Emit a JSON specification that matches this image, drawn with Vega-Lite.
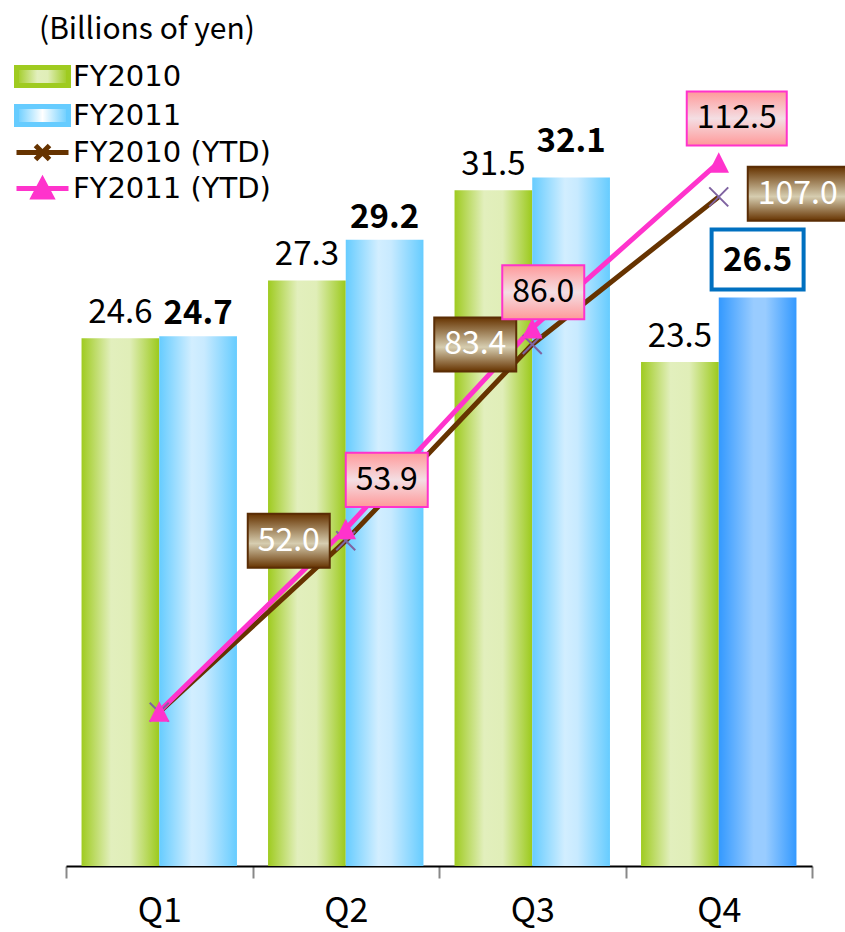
{
  "$schema": "https://vega.github.io/schema/vega-lite/v6.json",
  "width": 746,
  "height": 858,
  "autosize": "none",
  "padding": {"left": 66, "top": 8, "right": 33, "bottom": 66},
  "background": "white",
  "config": {"view": {"stroke": null}, "font": "Noto Sans CJK JP"},
  "datasets": {
    "bars": [
      {"q": "Q1", "series": "FY2010", "value": 24.6},
      {"q": "Q1", "series": "FY2011", "value": 24.7},
      {"q": "Q2", "series": "FY2010", "value": 27.3},
      {"q": "Q2", "series": "FY2011", "value": 29.2},
      {"q": "Q3", "series": "FY2010", "value": 31.5},
      {"q": "Q3", "series": "FY2011", "value": 32.1},
      {"q": "Q4", "series": "FY2010", "value": 23.5},
      {"q": "Q4", "series": "FY2011", "value": 26.5}
    ],
    "ytd": [
      {"q": "Q1", "series": "FY2010 (YTD)", "ytd": 24.6},
      {"q": "Q2", "series": "FY2010 (YTD)", "ytd": 52.0},
      {"q": "Q3", "series": "FY2010 (YTD)", "ytd": 83.4},
      {"q": "Q4", "series": "FY2010 (YTD)", "ytd": 107.0},
      {"q": "Q1", "series": "FY2011 (YTD)", "ytd": 24.7},
      {"q": "Q2", "series": "FY2011 (YTD)", "ytd": 53.9},
      {"q": "Q3", "series": "FY2011 (YTD)", "ytd": 86.0},
      {"q": "Q4", "series": "FY2011 (YTD)", "ytd": 112.5}
    ]
  },
  "resolve": {"scale": {"y": "independent"}},
  "layer": [
    {
      "data": {"name": "bars"},
      "mark": {"type": "bar"},
      "encoding": {
        "x": {"field": "q", "type": "nominal", "title": null,
              "scale": {"paddingInner": 0, "paddingOuter": 0},
              "axis": {"labelAngle": 0, "labelFontSize": 34, "labelColor": "#000000", "labelBaseline": "alphabetic", "labelPadding": 43,
                       "domainColor": "#000000", "domainWidth": 2, "tickColor": "#888888", "tickWidth": 2,
                       "tickSize": 12, "tickBand": "extent", "grid": false}},
        "xOffset": {"field": "series", "type": "nominal", "scale": {"domain": ["FY2010", "FY2011"], "paddingInner": 0, "paddingOuter": 0.2}},
        "y": {"field": "value", "type": "quantitative", "scale": {"domain": [0, 40]}, "axis": null},
        "fill": {
          "condition": [
            {"test": "datum.series === 'FY2010'", "value": {"gradient": "linear", "x1": 0, "y1": 0, "x2": 1, "y2": 0,
              "stops": [{"offset": 0, "color": "#9FCB20"}, {"offset": 0.38, "color": "#E2EFBD"}, {"offset": 0.62, "color": "#E0EEB8"}, {"offset": 1, "color": "#9CCA1C"}]}},
            {"test": "datum.q === 'Q4'", "value": {"gradient": "linear", "x1": 0, "y1": 0, "x2": 1, "y2": 0,
              "stops": [{"offset": 0, "color": "#3399FF"}, {"offset": 0.45, "color": "#99CCFF"}, {"offset": 0.6, "color": "#99CCFF"}, {"offset": 1, "color": "#3399FF"}]}}
          ],
          "value": {"gradient": "linear", "x1": 0, "y1": 0, "x2": 1, "y2": 0,
            "stops": [{"offset": 0, "color": "#66CCFF"}, {"offset": 0.42, "color": "#D2EEFF"}, {"offset": 0.58, "color": "#C8EAFF"}, {"offset": 1, "color": "#66CCFF"}]}
        }
      }
    },
    {
      "data": {"name": "bars"},
      "transform": [{"filter": "datum.series === 'FY2010'"}],
      "mark": {"type": "text", "fontSize": 33, "baseline": "alphabetic", "dy": -15, "color": "#000000"},
      "encoding": {
        "x": {"field": "q", "type": "nominal"},
        "xOffset": {"field": "series", "type": "nominal", "scale": {"domain": ["FY2010", "FY2011"], "paddingInner": 0, "paddingOuter": 0.2}},
        "y": {"field": "value", "type": "quantitative", "scale": {"domain": [0, 40]}, "axis": null},
        "text": {"field": "value", "type": "quantitative", "format": ".1f"}
      }
    },
    {
      "data": {"name": "bars"},
      "transform": [{"filter": "datum.series === 'FY2011' && (datum.q === 'Q1' || datum.q === 'Q2')"}],
      "mark": {"type": "text", "fontSize": 33, "fontWeight": "bold", "baseline": "alphabetic", "dy": -12, "color": "#000000"},
      "encoding": {
        "x": {"field": "q", "type": "nominal"},
        "xOffset": {"field": "series", "type": "nominal", "scale": {"domain": ["FY2010", "FY2011"], "paddingInner": 0, "paddingOuter": 0.2}},
        "y": {"field": "value", "type": "quantitative", "scale": {"domain": [0, 40]}, "axis": null},
        "text": {"field": "value", "type": "quantitative", "format": ".1f"}
      }
    },
    {
      "data": {"name": "bars"},
      "transform": [{"filter": "datum.series === 'FY2011' && datum.q === 'Q3'"}],
      "mark": {"type": "text", "fontSize": 33, "fontWeight": "bold", "baseline": "alphabetic", "dy": -25, "color": "#000000"},
      "encoding": {
        "x": {"field": "q", "type": "nominal"},
        "xOffset": {"field": "series", "type": "nominal", "scale": {"domain": ["FY2010", "FY2011"], "paddingInner": 0, "paddingOuter": 0.2}},
        "y": {"field": "value", "type": "quantitative", "scale": {"domain": [0, 40]}, "axis": null},
        "text": {"field": "value", "type": "quantitative", "format": ".1f"}
      }
    },
    {
      "data": {"name": "bars"},
      "transform": [{"filter": "datum.series === 'FY2011' && datum.q === 'Q4'"}],
      "mark": {"type": "point", "shape": "M-1,-0.652H1V0.652H-1Z", "size": 8464, "filled": true, "fill": "#FFFFFF", "stroke": "#0070C0", "strokeWidth": 4, "opacity": 1, "yOffset": -38},
      "encoding": {
        "x": {"field": "q", "type": "nominal"},
        "xOffset": {"field": "series", "type": "nominal", "scale": {"domain": ["FY2010", "FY2011"], "paddingInner": 0, "paddingOuter": 0.2}},
        "y": {"field": "value", "type": "quantitative", "scale": {"domain": [0, 40]}, "axis": null}
      }
    },
    {
      "data": {"name": "bars"},
      "transform": [{"filter": "datum.series === 'FY2011' && datum.q === 'Q4'"}],
      "mark": {"type": "text", "fontSize": 33, "fontWeight": "bold", "baseline": "middle", "yOffset": -37, "color": "#000000"},
      "encoding": {
        "x": {"field": "q", "type": "nominal"},
        "xOffset": {"field": "series", "type": "nominal", "scale": {"domain": ["FY2010", "FY2011"], "paddingInner": 0, "paddingOuter": 0.2}},
        "y": {"field": "value", "type": "quantitative", "scale": {"domain": [0, 40]}, "axis": null},
        "text": {"field": "value", "type": "quantitative", "format": ".1f"}
      }
    },
    {
      "data": {"name": "ytd"},
      "mark": {"type": "line", "strokeWidth": 5},
      "encoding": {
        "x": {"field": "q", "type": "nominal"},
        "y": {"field": "ytd", "type": "quantitative", "scale": {"domain": [0, 137.2]}, "axis": null},
        "color": {"field": "series", "type": "nominal",
          "scale": {"domain": ["FY2010", "FY2011", "FY2010 (YTD)", "FY2011 (YTD)"], "range": ["#9FCB20", "#66CCFF", "#663300", "#FF33CC"]},
          "legend": {
            "title": "(Billions of yen)", "orient": "none", "legendX": -38, "legendY": 7,
            "titleFontSize": 30, "titleFontWeight": "normal", "titleColor": "#000000", "titlePadding": 17, "titleLimit": 500,
            "labelFont": "DejaVu Sans", "labelFontSize": 29, "labelColor": "#000000", "labelOffset": 16, "labelLimit": 400,
            "symbolSize": 400, "symbolStrokeWidth": 5, "rowPadding": 0, "padding": 0,
            "encode": {
              "title": {"update": {"dx": {"value": 11}}},
              "symbols": {"update": {
                "shape": [
                  {"test": "datum.value === 'FY2010' || datum.value === 'FY2011'", "value": "M-2.6,-0.9H2.6V0.9H-2.6Z"},
                  {"test": "datum.value === 'FY2011 (YTD)'", "value": "M-2.6,0H2.6M-0.9,0.85L0,-0.85L0.9,0.85Z"},
                  {"value": "M-2.6,0H2.6M-0.7,-0.7L0.7,0.7M-0.7,0.7L0.7,-0.7"}
                ],
                "fill": [
                  {"test": "datum.value === 'FY2010'", "value": {"gradient": "linear", "x1": 0, "y1": 0, "x2": 1, "y2": 0,
                    "stops": [{"offset": 0, "color": "#9FCB20"}, {"offset": 0.4, "color": "#E2EFBD"}, {"offset": 0.6, "color": "#E0EEB8"}, {"offset": 1, "color": "#9CCA1C"}]}},
                  {"test": "datum.value === 'FY2011'", "value": {"gradient": "linear", "x1": 0, "y1": 0, "x2": 1, "y2": 0,
                    "stops": [{"offset": 0, "color": "#66CCFF"}, {"offset": 0.5, "color": "#FFFFFF"}, {"offset": 1, "color": "#66CCFF"}]}},
                  {"test": "datum.value === 'FY2011 (YTD)'", "value": "#FF33CC"},
                  {"value": "transparent"}
                ],
                "stroke": [
                  {"test": "datum.value === 'FY2010' || datum.value === 'FY2011'", "value": "transparent"},
                  {"test": "datum.value === 'FY2011 (YTD)'", "value": "#FF33CC"},
                  {"value": "#663300"}
                ],
                "opacity": {"value": 1},
                "fillOpacity": {"value": 1},
                "strokeOpacity": {"value": 1}
              }}
            }
          }
        }
      }
    },
    {
      "data": {"name": "ytd"},
      "transform": [{"filter": "datum.series === 'FY2010 (YTD)'"}],
      "mark": {"type": "point", "shape": "M-1,-1L1,1M-1,1L1,-1", "size": 360, "filled": false, "stroke": "#7F63A1", "strokeWidth": 2, "opacity": 1},
      "encoding": {
        "x": {"field": "q", "type": "nominal"},
        "y": {"field": "ytd", "type": "quantitative", "scale": {"domain": [0, 137.2]}, "axis": null}
      }
    },
    {
      "data": {"name": "ytd"},
      "transform": [{"filter": "datum.series === 'FY2011 (YTD)'"}],
      "mark": {"type": "point", "shape": "M0,-1L1,1H-1Z", "size": 420, "filled": true, "fill": "#FF33CC", "opacity": 1},
      "encoding": {
        "x": {"field": "q", "type": "nominal"},
        "y": {"field": "ytd", "type": "quantitative", "scale": {"domain": [0, 137.2]}, "axis": null}
      }
    },
    {
      "data": {"name": "ytd"},
      "transform": [{"filter": "datum.series === 'FY2010 (YTD)' && (datum.q === 'Q2' || datum.q === 'Q3')"}],
      "mark": {"type": "point", "filled": true, "opacity": 1, "stroke": "#5A2D05", "strokeWidth": 2,
        "shape": "M-1,-0.66H1V0.66H-1Z", "size": 6724, "xOffset": -57, "yOffset": 0,
        "fill": {"gradient": "linear", "x1": 0, "y1": 0, "x2": 0, "y2": 1,
          "stops": [{"offset": 0, "color": "#663300"}, {"offset": 0.55, "color": "#D6CDB0"}, {"offset": 1, "color": "#663300"}]}},
      "encoding": {
        "x": {"field": "q", "type": "nominal"},
        "y": {"field": "ytd", "type": "quantitative", "scale": {"domain": [0, 137.2]}, "axis": null}
      }
    },
    {
      "data": {"name": "ytd"},
      "transform": [{"filter": "datum.series === 'FY2010 (YTD)' && (datum.q === 'Q2' || datum.q === 'Q3')"}],
      "mark": {"type": "text", "fontSize": 32, "color": "#FFFFFF", "baseline": "middle", "xOffset": -57, "yOffset": 0},
      "encoding": {
        "x": {"field": "q", "type": "nominal"},
        "y": {"field": "ytd", "type": "quantitative", "scale": {"domain": [0, 137.2]}, "axis": null},
        "text": {"field": "ytd", "type": "quantitative", "format": ".1f"}
      }
    },
    {
      "data": {"name": "ytd"},
      "transform": [{"filter": "datum.series === 'FY2010 (YTD)' && datum.q === 'Q4'"}],
      "mark": {"type": "point", "filled": true, "opacity": 1, "stroke": "#5A2D05", "strokeWidth": 2,
        "shape": "M-1,-0.54H1V0.54H-1Z", "size": 10000, "xOffset": 79, "yOffset": -3,
        "fill": {"gradient": "linear", "x1": 0, "y1": 0, "x2": 0, "y2": 1,
          "stops": [{"offset": 0, "color": "#663300"}, {"offset": 0.55, "color": "#D6CDB0"}, {"offset": 1, "color": "#663300"}]}},
      "encoding": {
        "x": {"field": "q", "type": "nominal"},
        "y": {"field": "ytd", "type": "quantitative", "scale": {"domain": [0, 137.2]}, "axis": null}
      }
    },
    {
      "data": {"name": "ytd"},
      "transform": [{"filter": "datum.series === 'FY2010 (YTD)' && datum.q === 'Q4'"}],
      "mark": {"type": "text", "fontSize": 32, "color": "#FFFFFF", "baseline": "middle", "xOffset": 79, "yOffset": -3},
      "encoding": {
        "x": {"field": "q", "type": "nominal"},
        "y": {"field": "ytd", "type": "quantitative", "scale": {"domain": [0, 137.2]}, "axis": null},
        "text": {"field": "ytd", "type": "quantitative", "format": ".1f"}
      }
    },
    {
      "data": {"name": "ytd"},
      "transform": [{"filter": "datum.series === 'FY2011 (YTD)' && datum.q === 'Q2'"}],
      "mark": {"type": "point", "filled": true, "opacity": 1, "stroke": "#FF33CC", "strokeWidth": 2,
        "shape": "M-1,-0.66H1V0.66H-1Z", "size": 6724, "xOffset": 41, "yOffset": -49,
        "fill": {"gradient": "linear", "x1": 0, "y1": 0, "x2": 0, "y2": 1,
          "stops": [{"offset": 0, "color": "#FF9999"}, {"offset": 0.5, "color": "#F4DEE3"}, {"offset": 1, "color": "#FF9999"}]}},
      "encoding": {
        "x": {"field": "q", "type": "nominal"},
        "y": {"field": "ytd", "type": "quantitative", "scale": {"domain": [0, 137.2]}, "axis": null}
      }
    },
    {
      "data": {"name": "ytd"},
      "transform": [{"filter": "datum.series === 'FY2011 (YTD)' && datum.q === 'Q2'"}],
      "mark": {"type": "text", "fontSize": 32, "color": "#000000", "baseline": "middle", "xOffset": 41, "yOffset": -49},
      "encoding": {
        "x": {"field": "q", "type": "nominal"},
        "y": {"field": "ytd", "type": "quantitative", "scale": {"domain": [0, 137.2]}, "axis": null},
        "text": {"field": "ytd", "type": "quantitative", "format": ".1f"}
      }
    },
    {
      "data": {"name": "ytd"},
      "transform": [{"filter": "datum.series === 'FY2011 (YTD)' && datum.q === 'Q3'"}],
      "mark": {"type": "point", "filled": true, "opacity": 1, "stroke": "#FF33CC", "strokeWidth": 2,
        "shape": "M-1,-0.66H1V0.66H-1Z", "size": 6724, "xOffset": 11, "yOffset": -36,
        "fill": {"gradient": "linear", "x1": 0, "y1": 0, "x2": 0, "y2": 1,
          "stops": [{"offset": 0, "color": "#FF9999"}, {"offset": 0.5, "color": "#F4DEE3"}, {"offset": 1, "color": "#FF9999"}]}},
      "encoding": {
        "x": {"field": "q", "type": "nominal"},
        "y": {"field": "ytd", "type": "quantitative", "scale": {"domain": [0, 137.2]}, "axis": null}
      }
    },
    {
      "data": {"name": "ytd"},
      "transform": [{"filter": "datum.series === 'FY2011 (YTD)' && datum.q === 'Q3'"}],
      "mark": {"type": "text", "fontSize": 32, "color": "#000000", "baseline": "middle", "xOffset": 11, "yOffset": -36},
      "encoding": {
        "x": {"field": "q", "type": "nominal"},
        "y": {"field": "ytd", "type": "quantitative", "scale": {"domain": [0, 137.2]}, "axis": null},
        "text": {"field": "ytd", "type": "quantitative", "format": ".1f"}
      }
    },
    {
      "data": {"name": "ytd"},
      "transform": [{"filter": "datum.series === 'FY2011 (YTD)' && datum.q === 'Q4'"}],
      "mark": {"type": "point", "filled": true, "opacity": 1, "stroke": "#FF33CC", "strokeWidth": 2,
        "shape": "M-1,-0.54H1V0.54H-1Z", "size": 10000, "xOffset": 18, "yOffset": -44,
        "fill": {"gradient": "linear", "x1": 0, "y1": 0, "x2": 0, "y2": 1,
          "stops": [{"offset": 0, "color": "#FF9999"}, {"offset": 0.5, "color": "#F4DEE3"}, {"offset": 1, "color": "#FF9999"}]}},
      "encoding": {
        "x": {"field": "q", "type": "nominal"},
        "y": {"field": "ytd", "type": "quantitative", "scale": {"domain": [0, 137.2]}, "axis": null}
      }
    },
    {
      "data": {"name": "ytd"},
      "transform": [{"filter": "datum.series === 'FY2011 (YTD)' && datum.q === 'Q4'"}],
      "mark": {"type": "text", "fontSize": 32, "color": "#000000", "baseline": "middle", "xOffset": 18, "yOffset": -44},
      "encoding": {
        "x": {"field": "q", "type": "nominal"},
        "y": {"field": "ytd", "type": "quantitative", "scale": {"domain": [0, 137.2]}, "axis": null},
        "text": {"field": "ytd", "type": "quantitative", "format": ".1f"}
      }
    }
  ]
}
